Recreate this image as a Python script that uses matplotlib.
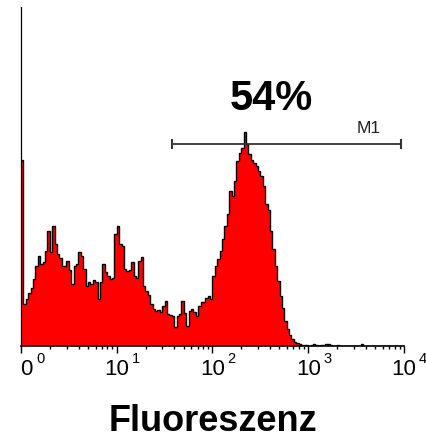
import numpy as np
import matplotlib
matplotlib.use("Agg")
import matplotlib.pyplot as plt

# Histogram counts in log-spaced channels (40 per decade, 10^0 .. 10^4)
counts = [
    186, 42, 47, 53, 58, 67, 80, 90, 82, 84,
    95, 115, 94, 120, 102, 92, 88, 80, 80, 85,
    76, 62, 80, 82, 94, 90, 77, 60, 64, 62,
    66, 64, 47, 64, 82, 74, 70, 67, 68, 112,
    120, 102, 100, 77, 75, 76, 84, 70, 68, 85,
    89, 60, 55, 51, 42, 37, 35, 36, 34, 40,
    45, 32, 31, 30, 19, 30, 32, 45, 33, 20,
    35, 37, 34, 30, 40, 44, 44, 48, 50, 47,
    70, 80, 87, 95, 107, 120, 132, 155, 150, 165,
    185, 193, 198, 214, 202, 192, 186, 183, 180, 175,
    170, 160, 142, 136, 115, 97, 80, 65, 50, 38,
    25, 17, 11, 7, 4, 3, 2, 1, 1, 1,
    0, 1, 2, 1, 0, 1, 1, 2, 2, 1,
    0, 0, 1, 0, 0, 0, 0, 0, 0, 0,
    0, 0, 2, 0, 0, 0, 0, 0, 0, 0,
    0, 0, 0, 0, 0, 0, 0, 0, 0, 0,
]
channels_per_decade = 40
decades = [0, 1, 2, 3, 4]
gate_lo, gate_hi, gate_level = 38, 9300, 202
gate_label = "M1"
percent_label = "54%"
xlabel = "Fluoreszenz"

W, H = 427, 439
fig = plt.figure(figsize=(W / 100, H / 100), dpi=100)
ax = fig.add_axes([21 / W, (H - 347) / H, (404 - 21) / W, (347 - 8) / H])

edges = 10 ** (np.arange(len(counts) + 1) / channels_per_decade)
ax.stairs(counts, edges, fill=True, color="#ff0000", linewidth=0)
ax.stairs(counts, edges, fill=False, color="black", linewidth=1.0, baseline=None)

ax.set_xscale("log")
ax.set_xlim(1, 1e4)
ax.set_ylim(0, 339)

for s in ["top", "right"]:
    ax.spines[s].set_visible(False)
ax.spines["left"].set_linewidth(0.9)
ax.spines["bottom"].set_linewidth(1.2)
ax.set_yticks([])
ax.set_xticks([10 ** d for d in decades])
ax.xaxis.set_minor_locator(matplotlib.ticker.LogLocator(base=10, subs=np.arange(2, 10), numticks=20))
ax.tick_params(axis="x", which="major", length=5, width=1.0, direction="out", labelbottom=False)
ax.tick_params(axis="x", which="minor", length=2.5, width=1.0, direction="out", labelbottom=False)

# gate marker
ax.plot([gate_lo, gate_hi], [gate_level, gate_level], color="#333333", lw=1.3, solid_capstyle="butt")
for gx in (gate_lo, gate_hi):
    ax.plot([gx, gx], [gate_level - 5, gate_level + 5], color="#333333", lw=1.5, solid_capstyle="butt")

def fy(py):
    return (H - py) / H

def fx(px):
    return px / W

fig.text(fx(271.5), fy(110), percent_label, ha="center", va="baseline",
         family="Liberation Sans", fontweight="bold", fontsize=30)
fig.text(fx(368.5), fy(133), gate_label, ha="center", va="baseline",
         family="Liberation Sans", fontsize=12.5, color="#222222")
fig.text(fx(213), fy(431), xlabel, ha="center", va="baseline",
         family="Liberation Sans", fontweight="bold", fontsize=26)

# decade labels
for d in decades:
    tx = 21 + d * 95.75
    if d == 0:
        fig.text(fx(tx + 5.5), fy(375), "0", ha="center", va="baseline",
                 family="Liberation Sans", fontsize=16)
    else:
        fig.text(fx(tx), fy(375), "10", ha="center", va="baseline",
                 family="Liberation Sans", fontsize=16)
    fig.text(fx(tx + 15), fy(363), str(d), ha="left", va="baseline",
             family="Liberation Sans", fontsize=10.5)

fig.savefig("out.png", dpi=100)
